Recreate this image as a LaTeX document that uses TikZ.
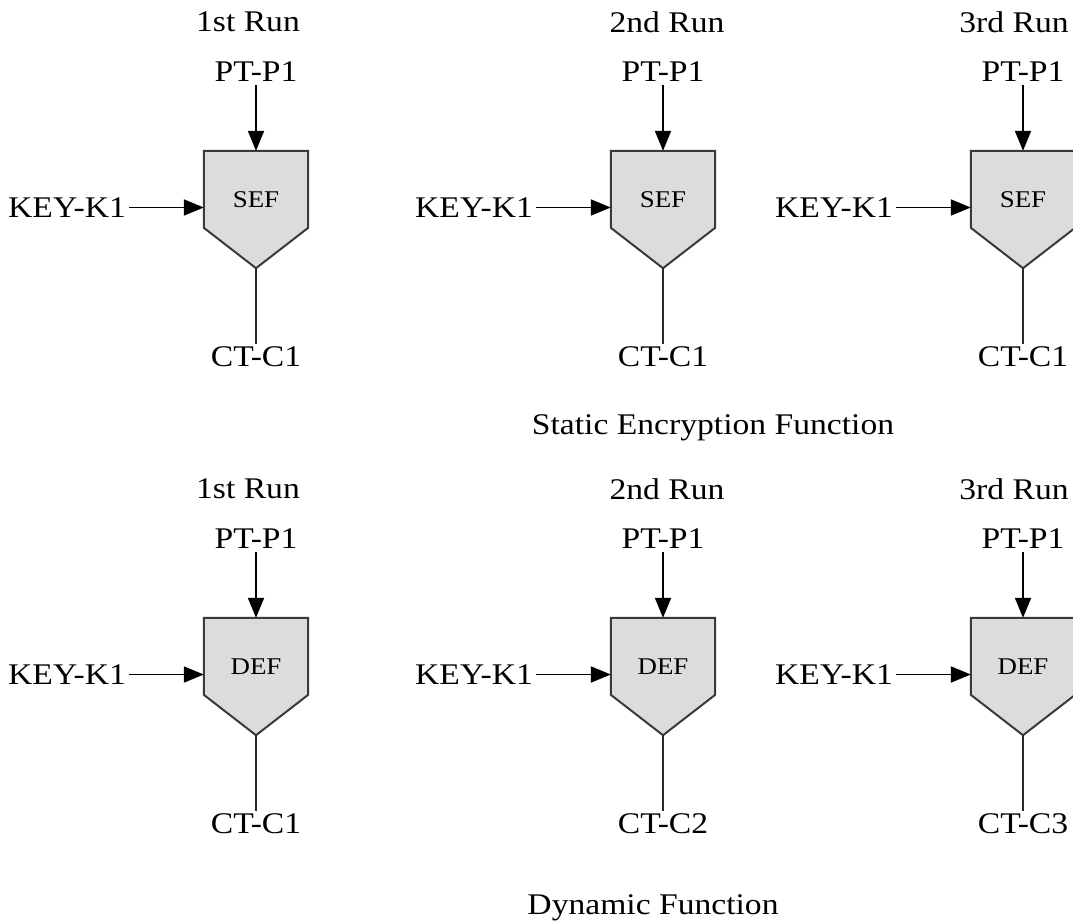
\documentclass[tikz,border=0pt]{standalone}
\usepackage{fontspec}
\setmainfont{Liberation Serif}[FakeStretch=1.12]
\usetikzlibrary{arrows.meta,calc}
\definecolor{bodyfill}{HTML}{DCDCDC}
\definecolor{bodyline}{HTML}{3A3A3A}
\definecolor{leadline}{HTML}{2A2A2A}

% One encryption stage:
% #1 id, #2 centre x, #3 vertical offset, #4 run-label x, #5 run label,
% #6 function tag, #7 ciphertext suffix
\newcommand\stage[7]{%
  \node[body] (#1) at (#2, #3+209.5) {};
  \filldraw[funnel] (#1.north west) -- (#1.north east)
    -- ($(#1.north east)+(0,77)$) -- (#1.south)
    -- ($(#1.north west)+(0,77)$) -- cycle;
  \node[tag] (#1t) at (#2, #3+200) {#6};
  \node[lbl] (#1r) at (#4, #3+22) {#5 Run};
  \node[lbl] (#1p) at (#2, #3+72) {PT-P1};
  \node[lbl, anchor=east] (#1k) at ($(#1.west)+(-75,-2)$) {KEY-K1};
  \node[lbl] (#1c) at (#2, #3+357) {CT-#7};
  \draw[flow] (#1p) -- (#1.north);
  \draw[flow] (#1k.east) -- (#1k.east -| #1.west);
  \draw[lead] (#1.south) -- (#1c);
}

\begin{document}
\begin{tikzpicture}[x=1pt,y=-1pt,
  lbl/.style={font=\fontsize{30}{36}\selectfont, inner sep=0pt, outer sep=3pt},
  tag/.style={font=\fontsize{24}{29}\selectfont, inner sep=0pt},
  body/.style={minimum width=104pt, minimum height=117pt, inner sep=0pt},
  funnel/.style={fill=bodyfill, draw=bodyline, line width=2pt, line join=miter},
  flow/.style={line width=1.9pt, -{Triangle[length=20pt,width=16pt]}},
  lead/.style={line width=1.9pt, draw=leadline}]
\useasboundingbox (0,0) rectangle (1073,922);

% Static encryption: same ciphertext every run
\stage{sa}{256}{0}{248}{1st}{SEF}{C1}
\stage{sb}{663}{0}{667}{2nd}{SEF}{C1}
\stage{sc}{1023}{0}{1014}{3rd}{SEF}{C1}
\node[lbl] (capS) at (713,428) {Static Encryption Function};

% Dynamic encryption: a new ciphertext each run
\stage{da}{256}{467}{248}{1st}{DEF}{C1}
\stage{db}{663}{467}{667}{2nd}{DEF}{C2}
\stage{dc}{1023}{467}{1014}{3rd}{DEF}{C3}
\node[lbl] (capD) at (653,908) {Dynamic Function};
\end{tikzpicture}
\end{document}
